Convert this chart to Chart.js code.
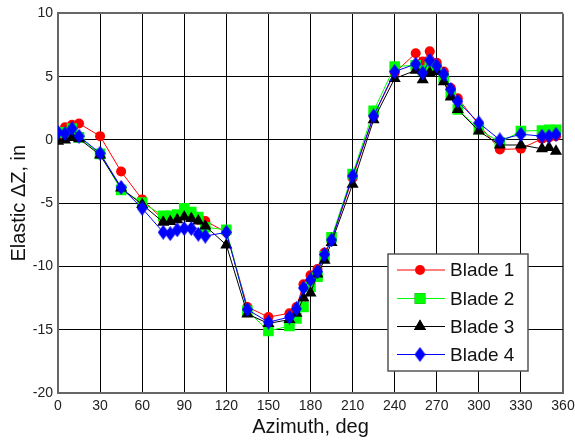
<!DOCTYPE html>
<html>
<head>
<meta charset="utf-8">
<script src="https://cdn.jsdelivr.net/npm/chart.js@4.4.1/dist/chart.umd.min.js"></script>
<style>
  html, body { margin: 0; padding: 0; background: #fff; }
  #wrap { width: 575px; height: 440px; position: relative; }
</style>
</head>
<body>
<div id="wrap"><canvas id="chart"></canvas></div>
<script>
// Azimuth stations, deg
const azimuth = [0, 5, 10, 15, 30, 45, 60, 75, 80, 85, 90, 95, 100, 105, 120, 135, 150, 165, 170, 175,
  180, 185, 190, 195, 210, 225, 240, 255, 260, 265, 270, 275, 280, 285, 300, 315, 330, 345, 350, 355];

// Elastic dZ per blade, in
const blade1 = [0.3, 1.0, 1.2, 1.3, 0.3, -2.5, -4.7, -6.3, -6.2, -6.0, -5.9, -6.0, -6.3, -6.4, -7.3, -13.2, -14.0, -13.7, -13.2, -11.4,
  -10.7, -10.2, -8.9, -7.9, -3.0, 1.9, 5.3, 6.85, 6.2, 7.0, 6.1, 5.4, 4.1, 3.3, 1.2, -0.75, -0.7, 0.1, 0.2, 0.3];
const blade2 = [0.6, 0.6, 0.9, 0.2, -1.1, -3.95, -4.95, -6.0, -6.0, -5.9, -5.4, -5.7, -6.1, -6.9, -7.1, -13.5, -15.1, -14.7, -14.1, -13.2,
  -11.6, -10.8, -9.2, -7.7, -2.7, 2.3, 5.8, 5.9, 5.5, 5.8, 5.6, 4.9, 3.6, 2.4, 0.85, -0.2, 0.7, 0.75, 0.8, 0.8];
const blade3 = [-0.1, 0.0, 0.2, 0.1, -1.2, -3.8, -5.1, -6.5, -6.45, -6.3, -6.1, -6.2, -6.4, -6.8, -8.3, -13.75, -14.5, -14.2, -13.7, -12.5,
  -12.1, -10.6, -9.5, -8.1, -3.5, 1.6, 4.85, 5.5, 4.75, 5.3, 5.4, 4.6, 3.4, 2.4, 0.7, -0.4, -0.4, -0.7, -0.6, -0.9];
const blade4 = [0.6, 0.5, 0.9, 0.3, -1.05, -3.75, -5.4, -7.3, -7.4, -7.1, -7.0, -7.0, -7.45, -7.6, -7.3, -13.4, -14.4, -14.0, -13.35, -11.7,
  -11.05, -10.4, -9.05, -7.9, -2.85, 1.9, 5.4, 6.0, 5.3, 6.3, 5.85, 5.2, 4.0, 3.05, 1.35, 0.0, 0.45, 0.3, 0.3, 0.45];

const seriesNames = ['Blade 1', 'Blade 2', 'Blade 3', 'Blade 4'];

const toPoints = vals => azimuth.map((a, i) => ({ x: a, y: vals[i] }));

// tall blue diamond marker
const diamond = document.createElement('canvas');
diamond.width = 11;
diamond.height = 15;
(() => {
  const c = diamond.getContext('2d');
  c.fillStyle = '#0000ff';
  c.beginPath();
  c.moveTo(5.5, 0);
  c.lineTo(11, 7.5);
  c.lineTo(5.5, 15);
  c.lineTo(0, 7.5);
  c.closePath();
  c.fill();
})();

const styles = [
  { color: '#ff0000', pointStyle: 'circle', pointRadius: 5, order: 4 },
  { color: '#00ff00', pointStyle: 'rect', pointRadius: 7.5, order: 3 },
  { color: '#000000', pointStyle: 'triangle', pointRadius: 7, order: 2 },
  { color: '#0000ff', pointStyle: diamond, pointRadius: 6, order: 1 }
];

const datasets = [blade1, blade2, blade3, blade4].map((vals, i) => ({
  label: seriesNames[i],
  data: toPoints(vals),
  showLine: true,
  borderColor: styles[i].color,
  backgroundColor: styles[i].color,
  borderWidth: 1,
  pointStyle: styles[i].pointStyle,
  pointRadius: styles[i].pointRadius,
  pointBorderWidth: 0,
  order: styles[i].order
}));

// legend box drawn inside the plot area
const boxLegend = {
  id: 'boxLegend',
  afterDraw(chart) {
    const ctx = chart.ctx;
    const x0 = 388, y0 = 254, w = 140, h = 117;
    ctx.save();
    ctx.fillStyle = '#fff';
    ctx.fillRect(x0, y0, w, h);
    ctx.strokeStyle = '#555';
    ctx.lineWidth = 1.5;
    ctx.strokeRect(x0, y0, w, h);
    ctx.font = '19px "Liberation Sans", Arial, sans-serif';
    ctx.textBaseline = 'middle';
    const rowY = [270, 298.5, 326.5, 354.5];
    chart.data.datasets.forEach((ds, i) => {
      const y = rowY[i];
      ctx.strokeStyle = ds.borderColor;
      ctx.lineWidth = 1;
      ctx.beginPath();
      ctx.moveTo(397, y);
      ctx.lineTo(445, y);
      ctx.stroke();
      Chart.helpers.drawPoint(ctx, {
        pointStyle: ds.pointStyle,
        radius: ds.pointRadius,
        borderWidth: 0,
        rotation: 0
      }, 420, y);
      ctx.fillStyle = ds.backgroundColor;
      ctx.fill();
      ctx.fillStyle = '#111';
      ctx.fillText(ds.label, 450, y + 1);
    });
    ctx.restore();
  }
};

const edgeColor = (ctx, lo, hi) => (ctx.tick && (ctx.tick.value === lo || ctx.tick.value === hi)) ? '#666' : '#000';
const edgeWidth = (ctx, lo, hi) => (ctx.tick && (ctx.tick.value === lo || ctx.tick.value === hi)) ? 2 : 1;

const tickFont = { family: '"Liberation Sans", Arial, sans-serif', size: 14 };
const titleFont = { family: '"Liberation Sans", Arial, sans-serif', size: 20 };

new Chart(document.getElementById('chart'), {
  type: 'scatter',
  data: { datasets },
  options: {
    responsive: true,
    maintainAspectRatio: false,
    animation: false,
    layout: { padding: { left: 0, right: 0, top: 13, bottom: 0 } },
    plugins: {
      legend: { display: false },
      tooltip: { enabled: false }
    },
    scales: {
      x: {
        type: 'linear',
        min: 0,
        max: 360,
        ticks: { stepSize: 30, color: '#222', font: tickFont, padding: 5, maxRotation: 0 },
        grid: {
          drawTicks: false,
          color: c => edgeColor(c, 0, 360),
          lineWidth: c => edgeWidth(c, 0, 360)
        },
        border: { color: '#666', width: 2 },
        title: { display: true, text: 'Azimuth, deg', color: '#111', font: titleFont, padding: { top: 0, bottom: 1 } },
        afterFit: s => { s.height = 47; s.paddingRight = 12; }
      },
      y: {
        min: -20,
        max: 10,
        ticks: { stepSize: 5, color: '#222', font: tickFont, padding: 5 },
        grid: {
          drawTicks: false,
          color: c => edgeColor(c, -20, 10),
          lineWidth: c => edgeWidth(c, -20, 10)
        },
        border: { color: '#666', width: 2 },
        title: { display: true, text: 'Elastic ΔZ, in', color: '#111', font: titleFont, padding: { top: 7, bottom: 0 } },
        afterFit: s => { s.width = 58; }
      }
    }
  },
  plugins: [boxLegend]
});
</script>
</body>
</html>
